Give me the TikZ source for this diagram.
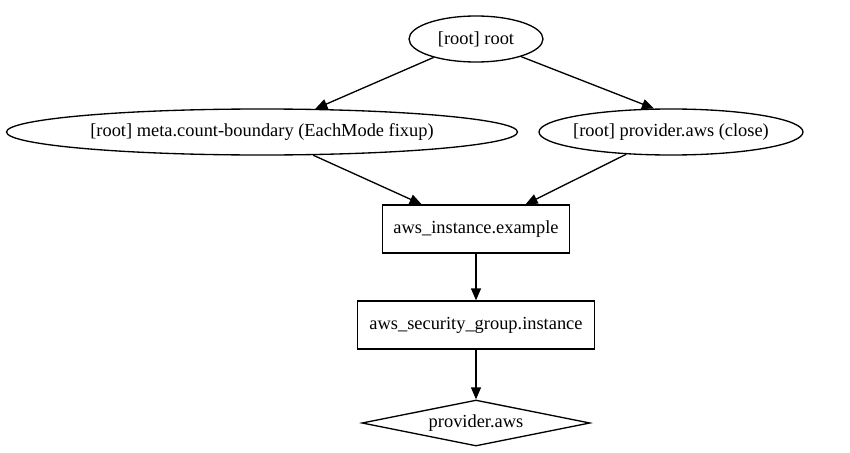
\documentclass[tikz,border=0pt]{standalone}
\usepackage{fontspec}
\setmainfont{Liberation Serif}
\usetikzlibrary{shapes.geometric,arrows.meta}
\begin{document}
\begin{tikzpicture}[x=1pt,y=-1pt,
  every node/.style={font=\fontsize{18.4}{22}\selectfont, line width=1.33pt, draw, inner sep=0pt},
  ell/.style={ellipse, minimum height=46pt},
  box/.style={rectangle, minimum height=48pt},
  dia/.style={diamond, aspect=4.96, minimum width=228pt, minimum height=46pt},
  arr/.style={line width=1.33pt, -{Triangle[length=12pt,width=10pt]}}
]
\useasboundingbox (0,0) rectangle (850,452);
\node[ell, minimum width=134pt] (root) at (476,39) {\makebox[0pt]{\raisebox{-1.5pt}{[root] root}}};
\node[ell, minimum width=511pt] (meta) at (262,132) {\makebox[0pt]{\raisebox{-1.5pt}{[root] meta.count-boundary (EachMode fixup)}}};
\node[ell, minimum width=264pt] (pclose) at (671,132) {\makebox[0pt]{\raisebox{-1.5pt}{[root] provider.aws (close)}}};
\node[box, minimum width=187pt] (inst) at (476,229) {\raisebox{-1.5pt}{aws\_instance.example}};
\node[box, minimum width=237pt] (sg) at (476,325) {\raisebox{-1.5pt}{aws\_security\_group.instance}};
\node[dia] (prov) at (476,423) {\raisebox{-1.5pt}{provider.aws}};
\draw[arr] (root) -- (meta);
\draw[arr] (root) -- (pclose.126);
\draw[arr] (meta) -- (inst);
\draw[arr] (pclose) -- (inst);
\draw[arr] (inst) -- (sg);
\draw[arr] (sg) -- (prov);
\end{tikzpicture}
\end{document}
